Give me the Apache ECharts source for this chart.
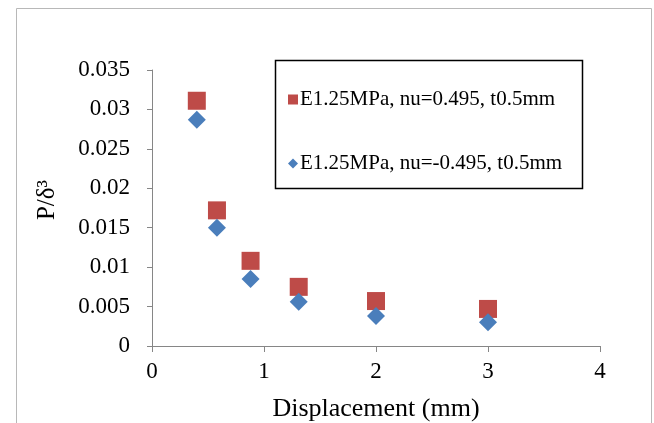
<!DOCTYPE html>
<html>
<head>
<meta charset="utf-8">
<script src="https://cdn.jsdelivr.net/npm/echarts@6/dist/echarts.min.js"></script>
<style>html,body{margin:0;padding:0;background:#fff}#c{width:654px;height:423px}</style>
</head>
<body>
<div id="c"></div>
<script>
const seriesNames = ['E1.25MPa, nu=0.495, t0.5mm', 'E1.25MPa, nu=-0.495, t0.5mm'];
const displacement = [0.4, 0.58, 0.88, 1.31, 2.0, 3.0];
const posNu = [0.0311, 0.0172, 0.0108, 0.0075, 0.0057, 0.0047];
const negNu = [0.0287, 0.0150, 0.0085, 0.0056, 0.0038, 0.0030];
const xTicks = [0, 1, 2, 3, 4];
const yTicks = [0, 0.005, 0.01, 0.015, 0.02, 0.025, 0.03, 0.035];

const FONT = '"Liberation Serif", "Times New Roman", serif';
const chart = echarts.init(document.getElementById('c'), null, {renderer: 'canvas'});
chart.setOption({
  backgroundColor: '#fff',
  animation: false,
  graphic: [
    {type: 'rect', shape: {x: 16.5, y: 8.5, width: 635, height: 440}, style: {fill: 'none', stroke: '#b8b8b8', lineWidth: 1}, z: -1},
    {type: 'rect', shape: {x: 275.5, y: 60.5, width: 307, height: 128}, style: {fill: '#fff', stroke: '#000', lineWidth: 1.5}, z: 5}
  ],
  legend: {
    orient: 'vertical',
    left: 283,
    top: 84,
    itemGap: 43,
    itemWidth: 10,
    itemHeight: 10,
    z: 10,
    textStyle: {fontFamily: FONT, fontSize: 21, color: '#000', padding: [0, 0, 0, -3]},
    data: [
      {name: seriesNames[0], icon: 'rect'},
      {name: seriesNames[1], icon: 'diamond'}
    ]
  },
  grid: {left: 152, right: 54, top: 70, bottom: 77, outerBoundsMode: 'none', containLabel: false},
  xAxis: {
    type: 'value',
    min: xTicks[0],
    max: xTicks[xTicks.length - 1],
    interval: 1,
    name: 'Displacement (mm)',
    nameLocation: 'middle',
    nameGap: 50,
    nameTextStyle: {fontFamily: FONT, fontSize: 26, color: '#000'},
    axisLine: {show: true, lineStyle: {color: '#868686', width: 1}},
    axisTick: {show: true, inside: false, length: 6, lineStyle: {color: '#868686'}},
    axisLabel: {fontFamily: FONT, fontSize: 23, color: '#000', margin: 14},
    splitLine: {show: false}
  },
  yAxis: {
    type: 'value',
    min: yTicks[0],
    max: yTicks[yTicks.length - 1],
    interval: 0.005,
    name: 'P/δ³',
    nameLocation: 'middle',
    nameRotate: 90,
    nameGap: 92,
    nameTextStyle: {fontFamily: FONT, fontSize: 25, color: '#000', padding: [0, 0, 0, 16]},
    axisLine: {show: true, lineStyle: {color: '#868686', width: 1}},
    axisTick: {show: true, inside: false, length: 5, lineStyle: {color: '#868686'}},
    axisLabel: {fontFamily: FONT, fontSize: 23, color: '#000', margin: 22,
      formatter: v => String(+v.toFixed(3))},
    splitLine: {show: false}
  },
  series: [
    {
      name: seriesNames[0], type: 'scatter', symbol: 'rect', symbolSize: 18,
      itemStyle: {color: '#be4b48', opacity: 1},
      data: displacement.map((x, i) => [x, posNu[i]])
    },
    {
      name: seriesNames[1], type: 'scatter', symbol: 'diamond', symbolSize: 18,
      itemStyle: {color: '#4a7ebb', opacity: 1},
      data: displacement.map((x, i) => [x, negNu[i]])
    }
  ]
});
</script>
</body>
</html>
